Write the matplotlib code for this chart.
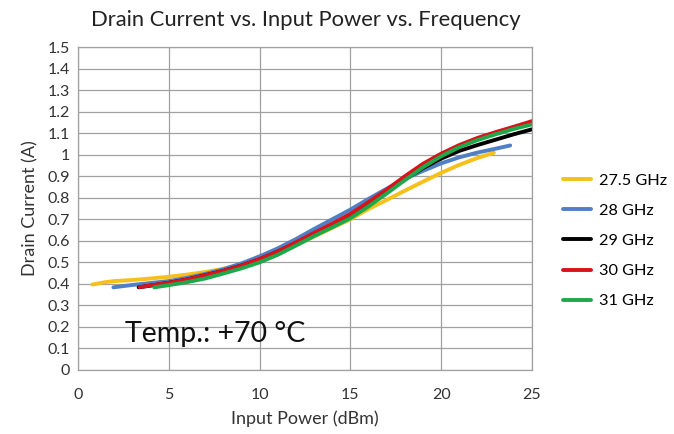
import matplotlib
matplotlib.use("Agg")
import matplotlib.pyplot as plt

plt.rcParams['font.family'] = ['Lato', 'DejaVu Sans']

# drain current (A) vs input power (dBm), one trace per frequency
pin_275 = [0.8, 1.5, 2, 3, 4, 5, 6, 7, 8, 9, 10, 11, 12, 13, 14, 15, 16, 17, 18, 19, 20, 21, 22, 22.9]
id_275 = [0.397, 0.408, 0.413, 0.418, 0.425, 0.433, 0.443, 0.455, 0.47, 0.49, 0.515, 0.545, 0.58, 0.62, 0.66, 0.70,
          0.748, 0.79, 0.833, 0.875, 0.916, 0.953, 0.985, 1.009]

pin_28 = [1.95, 3, 4, 5, 6, 7, 8, 9, 10, 11, 12, 13, 14, 15, 16, 17, 18, 19, 20, 21, 22, 23, 23.8]
id_28 = [0.384, 0.395, 0.404, 0.413, 0.428, 0.446, 0.468, 0.495, 0.528, 0.565, 0.608, 0.655, 0.70, 0.745, 0.795,
         0.842, 0.888, 0.925, 0.96, 0.988, 1.01, 1.028, 1.043]

pin_29 = [3.34, 4, 5, 6, 7, 8, 9, 10, 11, 12, 13, 14, 15, 16, 17, 18, 19, 20, 21, 22, 23, 24, 25]
id_29 = [0.384, 0.392, 0.405, 0.42, 0.44, 0.46, 0.485, 0.514, 0.55, 0.59, 0.632, 0.675, 0.72, 0.775, 0.83, 0.885,
         0.938, 0.982, 1.018, 1.045, 1.07, 1.095, 1.118]

pin_30 = [3.4, 4, 5, 6, 7, 8, 9, 10, 11, 12, 13, 14, 15, 16, 17, 18, 19, 20, 21, 22, 23, 24, 25]
id_30 = [0.385, 0.393, 0.405, 0.42, 0.44, 0.46, 0.485, 0.516, 0.55, 0.593, 0.637, 0.68, 0.725, 0.78, 0.838, 0.90,
         0.958, 1.005, 1.045, 1.078, 1.105, 1.13, 1.156]

pin_31 = [4.2, 5, 6, 7, 8, 9, 10, 11, 12, 13, 14, 15, 16, 17, 18, 19, 20, 21, 22, 23, 24, 25]
id_31 = [0.384, 0.394, 0.408, 0.425, 0.448, 0.472, 0.50, 0.535, 0.578, 0.622, 0.663, 0.705, 0.76, 0.82, 0.882,
         0.942, 0.993, 1.035, 1.068, 1.095, 1.12, 1.141]

labels = ['27.5 GHz', '28 GHz', '29 GHz', '30 GHz', '31 GHz']
colors = ['#f5c01a', '#4f7fc4', '#000000', '#d9121b', '#1fa84a']

x_ticks = [0, 5, 10, 15, 20, 25]
y_ticks = [0, 0.1, 0.2, 0.3, 0.4, 0.5, 0.6, 0.7, 0.8, 0.9, 1, 1.1, 1.2, 1.3, 1.4, 1.5]
y_tick_labels = ['0', '0.1', '0.2', '0.3', '0.4', '0.5', '0.6', '0.7', '0.8', '0.9', '1',
                 '1.1', '1.2', '1.3', '1.4', '1.5']

fig = plt.figure(figsize=(6.74, 4.34), dpi=100)
ax = fig.add_axes([0.1157, 0.1475, 0.6736, 0.744])

series = [(pin_275, id_275), (pin_28, id_28), (pin_29, id_29), (pin_30, id_30), (pin_31, id_31)]
for (xs, ys), lab, col in zip(series, labels, colors):
    ax.plot(xs, ys, color=col, lw=2.8, label=lab, solid_capstyle='round', solid_joinstyle='round')

ax.set_xlim(0, 25)
ax.set_ylim(0, 1.5)
ax.set_xticks(x_ticks)
ax.set_yticks(y_ticks)
ax.set_yticklabels(y_tick_labels)
ax.tick_params(length=0, labelsize=11.5, colors='#333333', pad=6)
ax.tick_params(axis='x', pad=13)
ax.grid(True, color='#a0a0a0', lw=0.9)
ax.set_axisbelow(True)
for s in ax.spines.values():
    s.set_color('#a0a0a0')
    s.set_linewidth(0.9)

ax.set_xlabel('Input Power (dBm)', fontsize=13, color='#333333', labelpad=6)
ax.set_ylabel('Drain Current (A)', fontsize=13, color='#333333', labelpad=6)
fig.text(0.453, 0.955, 'Drain Current vs. Input Power vs. Frequency', fontsize=15.8,
         color='#222222', ha='center', va='center')

ax.text(2.6, 0.165, 'Temp.: +70 \u00b0C', fontsize=20.5, color='#111111', va='center')

fig.legend(loc='upper left', bbox_to_anchor=(0.813, 0.634), frameon=False, fontsize=11.7,
           handlelength=1.75, labelspacing=0.97, handletextpad=0.5)

fig.savefig('out.png', dpi=100)
